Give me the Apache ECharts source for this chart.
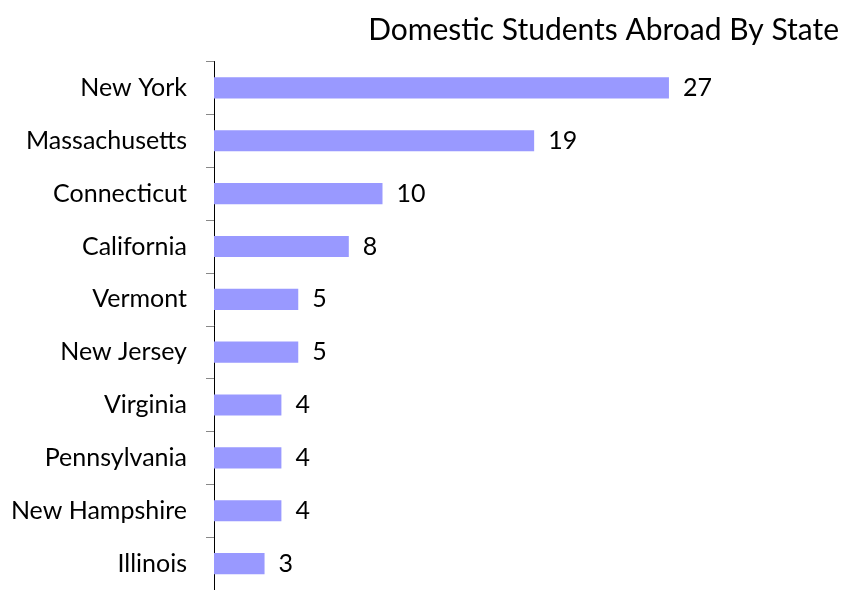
<!DOCTYPE html>
<html>
<head>
<meta charset="utf-8">
<script src="https://cdn.jsdelivr.net/npm/echarts@6/dist/echarts.min.js"></script>
<style>
  html, body { margin: 0; padding: 0; background: #fff; }
  #chart { width: 844px; height: 590px; }
</style>
</head>
<body>
<div id="chart"></div>
<script>
// categories listed bottom to top (category axis on y runs upward)
var states = ['Illinois', 'New Hampshire', 'Pennsylvania', 'Virginia', 'New Jersey',
  'Vermont', 'California', 'Connecticut', 'Massachusetts', 'New York'];
var students = [3, 4, 4, 4, 5, 5, 8, 10, 19, 27];

var chart = echarts.init(document.getElementById('chart'));

var option = {
  animation: false,
  textStyle: { fontFamily: 'Lato' },
  title: {
    text: 'Domestic Students Abroad By State',
    right: 0,
    top: 10,
    textStyle: { fontFamily: 'Lato', fontSize: 30, fontWeight: 'normal', color: '#000' }
  },
  grid: {
    left: 214,
    width: 505.5,
    top: 61.5,
    height: 531.5
  },
  xAxis: {
    type: 'value',
    min: 0,
    max: 30,
    show: false
  },
  yAxis: {
    type: 'category',
    data: states,
    axisLine: { show: true, lineStyle: { color: '#000', width: 1 } },
    axisTick: { show: true, length: 8, lineStyle: { color: '#888' } },
    axisLabel: { margin: 27, fontSize: 25, color: '#000', fontFamily: 'Lato' }
  },
  series: [
    {
      type: 'bar',
      data: students,
      barWidth: '40%',
      itemStyle: { color: '#9999ff' },
      label: {
        show: true,
        position: 'right',
        distance: 14,
        fontSize: 25,
        color: '#000',
        fontFamily: 'Lato'
      }
    }
  ]
};

chart.setOption(option);
</script>
</body>
</html>
